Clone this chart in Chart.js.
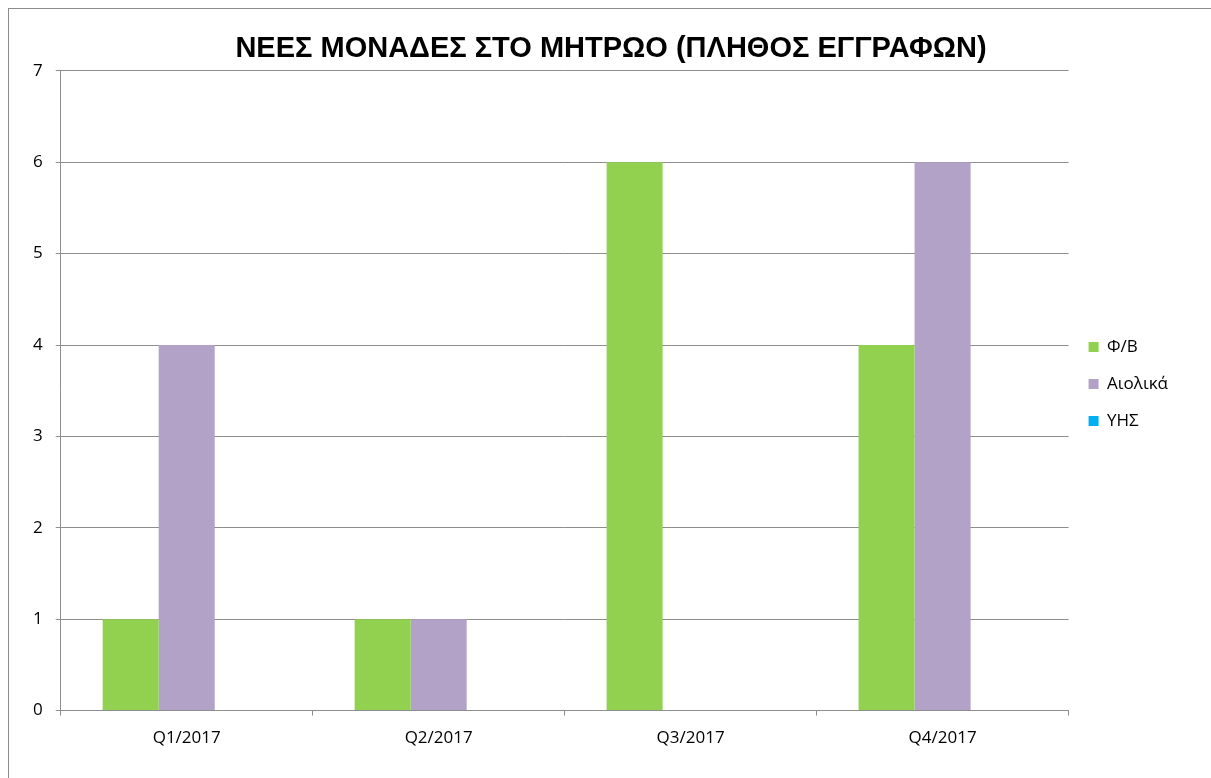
<!DOCTYPE html>
<html>
<head>
<meta charset="utf-8">
<script src="https://cdn.jsdelivr.net/npm/chart.js@4.4.1/dist/chart.umd.min.js"></script>
<style>
  html, body { margin: 0; padding: 0; background: #fff; overflow: hidden; }
  #frame { position: absolute; left: 8px; top: 8px; width: 1230px; height: 800px; border: 1px solid #8c8c8c; box-sizing: border-box; }
  #wrap { position: absolute; left: 0; top: 0; width: 1211px; height: 778px; }
</style>
</head>
<body>
<div id="frame"></div>
<div id="wrap"><canvas id="units"></canvas></div>
<script>
// categories and series
var quarters = ["Q1/2017", "Q2/2017", "Q3/2017", "Q4/2017"];
var pv_values = [1, 1, 6, 4];        // Φ/Β
var wind_values = [4, 1, 0, 6];      // Αιολικά
var hydro_values = [0, 0, 0, 0];     // ΥΗΣ

var gridColor = '#8e8e8e';
var textFont = "'Open Sans', 'DejaVu Sans', sans-serif";

var ctx = document.getElementById("units").getContext("2d");

// the title sits a little right of the canvas middle in the original
var titleShift = {
    id: 'titleShift',
    afterLayout: function(chart) {
        if (chart.titleBlock) {
            chart.titleBlock.left += 24;
        }
    }
};

var unitsChart = new Chart(ctx, {
    type: 'bar',
    data: {
        labels: quarters,
        datasets: [
            { label: "Φ/Β", data: pv_values, backgroundColor: '#92d050' },
            { label: "Αιολικά", data: wind_values, backgroundColor: '#b3a2c7' },
            { label: "ΥΗΣ", data: hydro_values, backgroundColor: '#00b0f0' }
        ]
    },
    plugins: [titleShift],
    options: {
        responsive: true,
        maintainAspectRatio: false,
        animation: false,
        layout: {
            padding: { left: 20, right: 33, top: 0, bottom: 10 }
        },
        datasets: {
            bar: { categoryPercentage: 0.667, barPercentage: 1.0 }
        },
        plugins: {
            title: {
                display: true,
                text: 'ΝΕΕΣ ΜΟΝΑΔΕΣ ΣΤΟ ΜΗΤΡΩΟ (ΠΛΗΘΟΣ ΕΓΓΡΑΦΩΝ)',
                color: '#000',
                font: { family: "'Liberation Sans', sans-serif", size: 29, weight: 'bold' },
                padding: { top: 32, bottom: 4 }
            },
            legend: {
                position: 'right',
                align: 'center',
                labels: {
                    boxWidth: 10,
                    boxHeight: 10,
                    padding: 20,
                    color: '#000',
                    font: { family: textFont, size: 17 }
                }
            },
            tooltip: { enabled: false }
        },
        scales: {
            x: {
                grid: {
                    display: true,
                    drawOnChartArea: false,
                    drawTicks: true,
                    tickLength: 5,
                    color: gridColor
                },
                border: { display: true, color: gridColor },
                ticks: { color: '#000', font: { family: textFont, size: 17 }, padding: 12 },
                // leave some empty room under the labels (pushes the legend down a bit)
                afterFit: function(scale) { scale.height += 8; }
            },
            y: {
                min: 0,
                max: 7,
                ticks: { stepSize: 1, color: '#000', font: { family: textFont, size: 17 }, padding: 13 },
                grid: { color: gridColor, tickLength: 5 },
                border: { display: true, color: gridColor }
            }
        }
    }
});
</script>
</body>
</html>
